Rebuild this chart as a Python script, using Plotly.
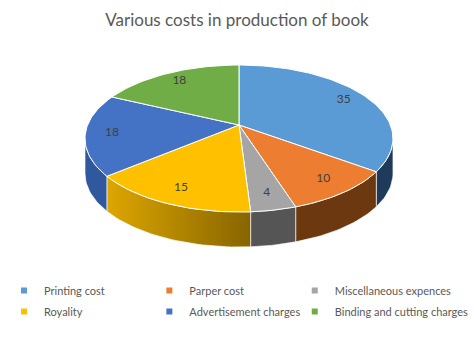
import math
import plotly.graph_objects as go

# ---- data ----
categories = ["Printing cost", "Parper cost", "Miscellaneous expences",
              "Royality", "Advertisement charges", "Binding and cutting charges"]
values = [35, 10, 4, 15, 18, 18]
top_colors = ["#5B9BD5", "#ED7D31", "#A5A5A5", "#FFC000", "#4472C4", "#70AD47"]
side_colors = ["#1F3B5C", "#6B3810", "#555555", "#B88A00", "#30589E", "#4A7A2E"]
title_text = "Various costs in production of book"

# ---- geometry (pixel space) ----
W, H = 474, 354
CX, CY = 240, 125       # apex of the pie on screen
A, B, K = 71, 152, 0.184  # vertical / horizontal scale, perspective factor
DEPTH = 35
LABEL_R = 0.83
VIS_LO = math.degrees(math.acos(-K))          # right extreme of visible wall
VIS_HI = 360 - VIS_LO                         # left extreme


def proj(theta, r=1.0, dz=0.0):
    t = math.radians(theta)
    u, v = r * math.sin(t), r * math.cos(t)
    d = 1 + K * v
    return CX + B * u / d, CY - A * v / d + dz


def arc(a, b, dz=0.0, n=None):
    n = n or max(4, int(abs(b - a) / 1.5))
    pts = [proj(a + (b - a) * i / n, 1.0, dz) for i in range(n + 1)]
    return [p[0] for p in pts], [p[1] for p in pts]


total = sum(values)
angles = []
acc = 0
for v in values:
    a0 = acc / total * 360
    acc += v
    angles.append((a0, acc / total * 360))

fig = go.Figure()

# side walls
for i, (a0, a1) in enumerate(angles):
    lo, hi = max(a0, VIS_LO), min(a1, VIS_HI)
    if hi <= lo:
        continue
    tx, ty = arc(lo, hi)
    bx, by = arc(hi, lo, DEPTH)
    kw = {}
    if categories[i] == "Royality":
        kw["fillgradient"] = dict(type="horizontal",
                                  colorscale=[[0, "#DDA600"], [1, "#876500"]])
    else:
        kw["fillcolor"] = side_colors[i]
    fig.add_trace(go.Scatter(x=tx + bx + [tx[0]], y=ty + by + [ty[0]],
                             mode="lines", fill="toself",
                             line=dict(color="rgba(255,255,255,0.8)", width=0.8),
                             hoverinfo="skip", showlegend=False, **kw))

# top faces
for i, (a0, a1) in enumerate(angles):
    ax_, ay_ = arc(a0, a1)
    fig.add_trace(go.Scatter(x=[CX] + ax_ + [CX], y=[CY] + ay_ + [CY],
                             mode="lines", fill="toself", fillcolor=top_colors[i],
                             line=dict(color="white", width=1),
                             hoverinfo="skip", showlegend=False))

# data labels
lx, ly = [], []
for a0, a1 in angles:
    x, y = proj((a0 + a1) / 2, LABEL_R)
    lx.append(x)
    ly.append(y)
fig.add_trace(go.Scatter(x=lx, y=ly, mode="text", text=[str(v) for v in values],
                         textfont=dict(family="Lato", size=12, color="#404040"),
                         hoverinfo="skip", showlegend=False))

# legend entries: three columns, each its own legend
legend_ids = ["legend", "legend2", "legend3"]
for i, (name, c) in enumerate(zip(categories, top_colors)):
    fig.add_trace(go.Scatter(x=[None], y=[None], mode="markers", name=name,
                             legend=legend_ids[i % 3], legendgroup=name,
                             marker=dict(symbol="square", size=6, color=c)))

leg_common = dict(orientation="v", xanchor="left", y=1 - 276 / H, yanchor="top",
                  tracegroupgap=2, itemwidth=30, bgcolor="rgba(0,0,0,0)",
                  font=dict(family="Lato", size=11, color="#595959"))
col_x = [4, 150, 296]

fig.update_layout(
    width=W, height=H,
    margin=dict(l=0, r=0, t=0, b=0),
    paper_bgcolor="white", plot_bgcolor="white",
    title=dict(text=title_text, x=0.5, xanchor="center", y=1 - 20 / H,
               yanchor="middle",
               font=dict(family="Lato", size=17, color="#595959")),
    xaxis=dict(range=[0, W], visible=False, fixedrange=True),
    yaxis=dict(range=[H, 0], visible=False, fixedrange=True),
    legend=dict(x=col_x[0] / W, **leg_common),
    legend2=dict(x=col_x[1] / W, **leg_common),
    legend3=dict(x=col_x[2] / W, **leg_common),
    showlegend=True,
)

fig.write_html("out.html")
